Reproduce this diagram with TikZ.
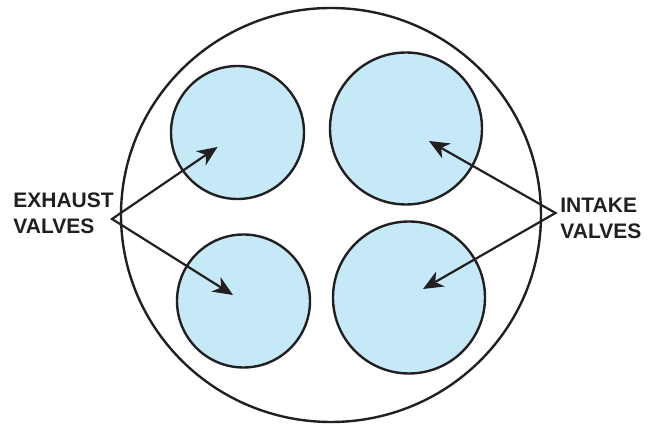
\documentclass[tikz,border=0pt]{standalone}
\usepackage{fontspec}
\setmainfont{Liberation Sans}
\usetikzlibrary{positioning,calc,shapes.geometric,arrows.meta}
\definecolor{cValve}{HTML}{C6E9F8}
\definecolor{cInk}{HTML}{231F20}
\tikzset{
  head/.style={ellipse,draw=cInk,line width=1.2pt,minimum width=210pt,minimum height=207pt,inner sep=0pt},
  valve/.style={circle,draw=cInk,line width=1.2pt,fill=cValve,inner sep=0pt},
  lbl/.style={font=\bfseries\fontsize{10.5}{13}\selectfont,text=cInk,align=left,inner sep=0pt,anchor=west},
  lead/.style={{Stealth[length=10pt,width=8.5pt,inset=3pt]}-{Stealth[length=10pt,width=8.5pt,inset=3pt]},line width=1.1pt,line join=miter,cInk},
}

\begin{document}
\begin{tikzpicture}[x=0.5pt,y=-0.5pt]
  \useasboundingbox (0,0) rectangle (650,427);
  \node[head] (hd) at (331,215) {};
  % exhaust side
  \node[valve,minimum size=66.5pt] (ex1) at (237.5,132.5) {};
  \node[valve,minimum size=66.5pt] (ex2) at (243.5,301) {};
  % intake side
  \node[valve,minimum size=76pt] (in1) at (406,128.5) {};
  \node[valve,minimum size=76pt] (in2) at (409,297.5) {};
  \node[lbl] (exl) at (13,213.5) {EXHAUST\\VALVES};
  \node[lbl] (inl) at (560,218) {INTAKE\\VALVES};
  \coordinate (exap) at (112,219);
  \coordinate (inap) at (555.5,213);
  \coordinate (ex1t) at (217.5,147);
  \coordinate (ex2t) at (233,295);
  \coordinate (in1t) at (429,141);
  \coordinate (in2t) at (423,289);
  \draw[lead] (ex1t) -- (exap) -- (ex2t);
  \draw[lead] (in1t) -- (inap) -- (in2t);
\end{tikzpicture}
\end{document}
